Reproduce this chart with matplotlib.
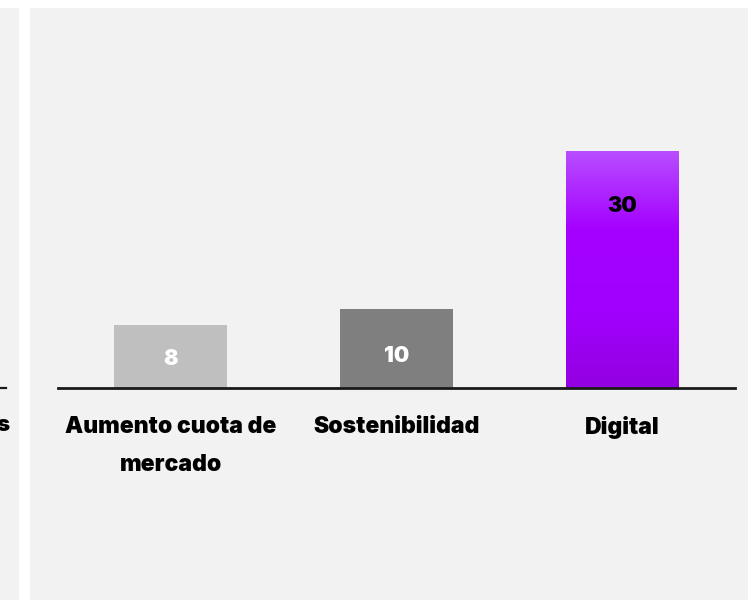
import matplotlib.pyplot as plt
import numpy as np
from matplotlib.patches import Rectangle
from matplotlib.colors import LinearSegmentedColormap

# Chart data
categories = ['Aumento cuota de\nmercado', 'Sostenibilidad', 'Digital']
values = [8, 10, 30]
bar_colors = ['#bfbfbf', '#7f7f7f', None]   # None -> purple gradient
label_colors = ['white', 'white', 'black']
label_y = [3.7, 4.0, 23.1]                 # where the value text sits inside the bar

W, H = 748, 609
DPI = 100
plt.rcParams['font.family'] = ['Inter', 'DejaVu Sans']


def px(x, y, w, h):
    # pixel box (top-left origin) -> figure fraction
    return [x / W, 1 - (y + h) / H, w / W, h / H]


def main():
    fig = plt.figure(figsize=(W / DPI, H / DPI), dpi=DPI)
    fig.patch.set_facecolor('white')

    # background panels
    for (x, y, w, h) in [(0, 8, 19, 592), (30, 8, 718, 592)]:
        r = px(x, y, w, h)
        fig.patches.append(Rectangle((r[0], r[1]), r[2], r[3],
                                     transform=fig.transFigure,
                                     facecolor='#f2f2f2', edgecolor='none',
                                     zorder=-5))

    # leftover bit of the neighbouring chart
    fig.add_artist(plt.Line2D([0, 6 / W], [1 - 388 / H] * 2,
                              color='#1a1a1a', lw=1.6,
                              transform=fig.transFigure))
    fig.text(-4 / W, 1 - 425 / H, 's', fontsize=16, fontweight=900,
             ha='left', va='center')

    # main axes: baseline at y=388 px, 7.9 px per unit
    top_val = 32
    ax_h = top_val * 7.9
    ax = fig.add_axes(px(58, 388 - ax_h, 677, ax_h))
    ax.set_facecolor('none')
    ax.set_xlim(-0.5, 2.5)
    ax.set_ylim(0, top_val)

    x = np.arange(len(values))
    bars = ax.bar(x, values, width=0.5, zorder=2)
    for b, c in zip(bars, bar_colors):
        if c is None:
            b.set_facecolor('none')
            cmap = LinearSegmentedColormap.from_list(
                'purp', ['#b84dff', '#a400ff', '#a100ff', '#9300e0'])
            grad = np.linspace(0, 1, 256).reshape(-1, 1)
            bx, by = b.get_x(), b.get_y()
            im = ax.imshow(grad, cmap=cmap, aspect='auto',
                           extent=[bx, bx + b.get_width(), by, b.get_height()],
                           zorder=2)
            im.set_clip_path(b)
        else:
            b.set_facecolor(c)

    for xi, v, ly, lc in zip(x, values, label_y, label_colors):
        ax.text(xi, ly, str(v), ha='center', va='center', color=lc,
                fontsize=15.5, fontweight=900, zorder=3)

    ax.set_xlim(-0.5, 2.5)
    ax.set_ylim(0, top_val)
    ax.axhline(0, color='#1a1a1a', lw=2, zorder=4, clip_on=False)

    for s in ax.spines.values():
        s.set_visible(False)
    ax.set_yticks([])
    ax.set_xticks(x)
    ax.set_xticklabels(categories, fontsize=16.5, fontweight=900,
                       linespacing=1.95, va='top')
    ax.tick_params(axis='x', length=0, pad=20)

    fig.savefig('out.png', dpi=DPI, facecolor=fig.get_facecolor())


if __name__ == '__main__':
    main()
